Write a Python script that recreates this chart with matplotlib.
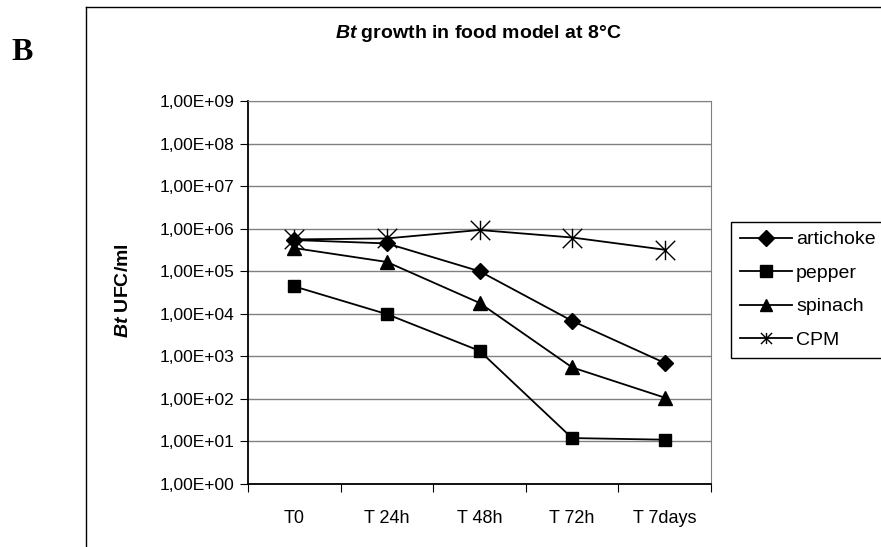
import matplotlib.pyplot as plt
from matplotlib.lines import Line2D
from matplotlib.path import Path

plt.rcParams["font.family"] = ["Liberation Sans", "DejaVu Sans"]
plt.rcParams["mathtext.fontset"] = "custom"
plt.rcParams["mathtext.bfit"] = "Liberation Sans:italic:bold"
plt.rcParams["mathtext.it"] = "Liberation Sans:italic"
plt.rcParams["mathtext.rm"] = "Liberation Sans"

times = ["T0", "T 24h", "T 48h", "T 72h", "T 7days"]
artichoke = [5.4e5, 4.5e5, 1.0e5, 6.8e3, 7.0e2]
pepper = [4.4e4, 9.8e3, 1.35e3, 12, 11]
spinach = [3.5e5, 1.65e5, 1.8e4, 5.5e2, 1.07e2]
cpm = [5.6e5, 5.9e5, 9.3e5, 6.2e5, 3.2e5]
y_ticks = [10.0 ** k for k in range(10)]
y_labels = ["1,00E+%02d" % k for k in range(10)]

W, H = 881, 547
fig = plt.figure(figsize=(W / 100, H / 100), dpi=100)

# outer chart frame (runs off the right and bottom edges)
fig.add_artist(Line2D([86 / W, 86 / W], [0, 1 - 7 / H], transform=fig.transFigure,
                      color="black", lw=1.0))
fig.add_artist(Line2D([86 / W, 1], [1 - 7 / H, 1 - 7 / H], transform=fig.transFigure,
                      color="black", lw=1.0))

fig.text(22 / W, 1 - 53 / H, "B", fontfamily="Liberation Serif", fontweight="bold",
         fontsize=23, ha="center", va="center")

ax = fig.add_axes([248 / W, 1 - 484 / H, (711 - 248) / W, (484 - 101) / H])

# Excel-style star: X plus a vertical stroke
star = Path([(0, -1), (0, 1), (-1, -1), (1, 1), (-1, 1), (1, -1)],
            [Path.MOVETO, Path.LINETO, Path.MOVETO, Path.LINETO, Path.MOVETO, Path.LINETO])

x = list(range(len(times)))
ax.plot(x, artichoke, color="black", lw=1.3, marker="D", ms=8, label="artichoke")
ax.plot(x, pepper, color="black", lw=1.3, marker="s", ms=8.5, label="pepper")
ax.plot(x, spinach, color="black", lw=1.3, marker="^", ms=10, label="spinach")
ax.plot(x, cpm, color="black", lw=1.3, marker=star, ms=14, mew=1.0, label="CPM")

ax.set_yscale("log")
ax.set_ylim(1, 1e9)
ax.set_yticks(y_ticks)
ax.set_yticklabels(y_labels)
ax.minorticks_off()
ax.yaxis.grid(True, color="#808080", lw=1.0)
ax.set_axisbelow(True)

ax.set_xlim(-0.5, len(times) - 0.5)
ax.set_xticks([i - 0.5 for i in range(len(times) + 1)])
ax.set_xticklabels([])
ax.set_xticks(x, minor=True)
ax.set_xticklabels(times, minor=True)
ax.tick_params(axis="x", which="minor", length=0, pad=19, labelsize=13)
ax.tick_params(axis="x", which="major", length=6, direction="out", color="black")
ax.tick_params(axis="y", length=6, direction="out", labelsize=12.5, pad=4)

ax.spines["top"].set_color("#808080")
ax.spines["right"].set_color("#808080")
ax.spines["left"].set_linewidth(1.3)
ax.spines["bottom"].set_linewidth(1.3)

fig.text(124 / W, 1 - 291 / H, r"$\mathbfit{Bt}$ UFC/ml", fontweight="bold", fontsize=14,
         rotation=90, ha="center", va="center")
fig.text(478 / W, 1 - 34 / H, r"$\mathbfit{Bt}$ growth in food model at 8°C",
         fontweight="bold", fontsize=14, ha="center", va="center")

leg = ax.legend(loc="upper left", bbox_to_anchor=(731 / W, 1 - 222 / H),
                bbox_transform=fig.transFigure, frameon=True, fancybox=False,
                edgecolor="black", framealpha=1, borderaxespad=0, fontsize=14,
                handlelength=2.7, labelspacing=0.82, borderpad=0.45, handletextpad=0.2)
leg.get_frame().set_linewidth(1.0)
for h in leg.legend_handles:
    h.set_markersize(8)

fig.savefig("out.png", dpi=100)
